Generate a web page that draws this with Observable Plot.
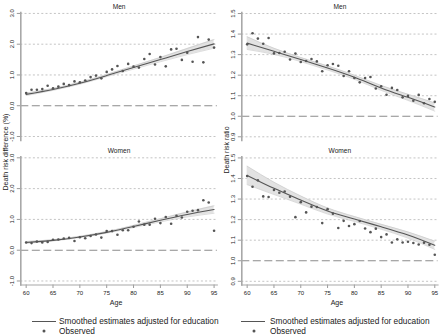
<!DOCTYPE html>
<html><head><meta charset="utf-8">
<script src="https://cdn.jsdelivr.net/npm/d3@7"></script>
<script src="https://cdn.jsdelivr.net/npm/@observablehq/plot@0.6"></script>
<style>
body{margin:0;background:#fff;font-family:"Liberation Sans",Arial,sans-serif;}
#wrap{position:relative;width:440px;height:336px;overflow:hidden;background:#fff;}
.p{position:absolute;}
.ytitle{position:absolute;transform:translate(-50%,-50%) rotate(-90deg);white-space:nowrap;font-size:7px;color:#222;line-height:1;}
.leg{position:absolute;font-size:8.3px;color:#222;white-space:nowrap;line-height:1;transform:translateY(-50%);}
.legline{position:absolute;height:0;border-top:1px solid #555;}
.legdot{position:absolute;width:3px;height:3px;border-radius:50%;background:#555;transform:translate(-50%,-50%);}
</style></head><body><div id="wrap"></div>
<script>
const ages = [60,61,62,63,64,65,66,67,68,69,70,71,72,73,74,75,76,77,78,79,80,81,82,83,84,85,86,87,88,89,90,91,92,93,94,95];
const menDiffObs = [0.41,0.52,0.52,0.54,0.65,0.57,0.62,0.71,0.67,0.79,0.76,0.82,0.93,0.98,0.89,1.10,1.18,1.29,1.13,1.36,1.27,1.24,1.52,1.68,1.34,1.58,1.28,1.83,1.85,1.49,1.72,1.43,2.23,1.41,2.15,1.89];
const menRatioObs = [1.350,1.404,1.378,1.353,1.381,1.306,1.308,1.314,1.276,1.305,1.264,1.269,1.279,1.267,1.219,1.248,1.254,1.246,1.196,1.219,1.186,1.165,1.186,1.191,1.135,1.146,1.105,1.138,1.128,1.092,1.099,1.076,1.104,1.063,1.084,1.070];
const womenDiffObs = [0.25,0.23,0.28,0.25,0.27,0.34,0.35,0.38,0.40,0.30,0.42,0.39,0.46,0.51,0.41,0.62,0.62,0.50,0.65,0.65,0.76,0.93,0.83,0.83,1.02,0.88,1.08,0.86,1.12,1.06,1.25,1.28,1.30,1.62,1.55,0.63];
const womenRatioObs = [1.412,1.360,1.391,1.313,1.310,1.344,1.331,1.337,1.311,1.212,1.285,1.235,1.263,1.261,1.183,1.251,1.229,1.159,1.194,1.169,1.178,1.193,1.157,1.139,1.156,1.115,1.128,1.089,1.104,1.089,1.092,1.086,1.079,1.088,1.078,1.029];

const smoothAges = [60,65,70,75,80,85,90,95];
const menDiffFit = [0.37,0.53,0.73,0.98,1.24,1.50,1.76,2.01];
const menDiffLo  = [0.33,0.50,0.70,0.945,1.19,1.43,1.66,1.87];
const menDiffHi  = [0.41,0.56,0.76,1.015,1.29,1.57,1.86,2.15];
const menRatioFit = [1.356,1.316,1.276,1.235,1.190,1.138,1.092,1.045];
const menRatioLo  = [1.325,1.301,1.266,1.225,1.180,1.126,1.077,1.025];
const menRatioHi  = [1.387,1.331,1.286,1.245,1.200,1.150,1.107,1.065];
const womenDiffFit = [0.25,0.32,0.43,0.58,0.77,0.97,1.16,1.32];
const womenDiffLo  = [0.22,0.30,0.41,0.555,0.735,0.92,1.08,1.20];
const womenDiffHi  = [0.28,0.34,0.45,0.605,0.805,1.02,1.24,1.44];
const womenRatioFit = [1.415,1.352,1.295,1.242,1.203,1.165,1.125,1.075];
const womenRatioLo  = [1.370,1.322,1.275,1.227,1.191,1.153,1.110,1.055];
const womenRatioHi  = [1.460,1.382,1.315,1.257,1.215,1.177,1.140,1.095];

const xTicks = [60,65,70,75,80,85,90,95];
const diffTicks = [-1,0,1,2,3];
const ratioTicks = [0.9,1.0,1.1,1.2,1.3,1.4,1.5];
const panelTitles = ["Men","Women"];
const yTitles = ["Death risk difference (%)","Death risk ratio"];
const xTitle = "Age";
const legendLabels = ["Smoothed estimates adjusted for education","Observed"];

const wrap = document.getElementById("wrap");

function panel({obs, fit, lo, hi, yDomain, yTicks, refY, title, bottom, left, ml, mr}) {
  const obsData = ages.map((a,i)=>({age:a, v:obs[i]}));
  const fitData = smoothAges.map((a,i)=>({age:a, v:fit[i], lo:lo[i], hi:hi[i]}));
  const height = bottom ? 170 : 145;
  const marginTop = bottom ? 16.4 : 12;
  const marginBottom = bottom ? 25.5 : 5;
  const marks = [
    Plot.ruleY(yTicks.filter(t=>Math.abs(t-refY)>1e-9), {y: d=>d, stroke:"#bdbdbd", strokeDasharray:"2,2.2", strokeWidth:0.9}),
    Plot.ruleY([refY], {stroke:"#8c8c8c", strokeDasharray:"8,3.5", strokeWidth:1.1}),
    Plot.areaY(fitData, {x:"age", y1:"lo", y2:"hi", fill:"#e2e2e2", curve:"natural"}),
    Plot.line(fitData, {x:"age", y:"lo", stroke:"#c4c4c4", strokeWidth:0.6, curve:"natural"}),
    Plot.line(fitData, {x:"age", y:"hi", stroke:"#c4c4c4", strokeWidth:0.6, curve:"natural"}),
    Plot.line(fitData, {x:"age", y:"v", stroke:"#555", strokeWidth:1.1, curve:"natural"}),
    Plot.dot(obsData, {x:"age", y:"v", r:1.3, fill:"#555", stroke:"none"}),
    Plot.axisY({ticks:yTicks, tickRotate:-90, tickSize:3.5, tickPadding:3, fontSize:6, tickFormat:d=>d.toFixed(1), stroke:"#999", label:null}),
    Plot.frame({anchor:"left", stroke:"#a8a8a8", strokeWidth:1.6}),
    Plot.text([title], {text:d=>d, frameAnchor:"top", dy: bottom ? -8.7 : -8, fontSize:6.6, fill:"#222"})
  ];
  if (bottom) {
    marks.push(
      Plot.axisX({ticks:xTicks, tickSize:3.5, tickPadding:2, fontSize:6, stroke:"#999", label:null}),
      Plot.frame({anchor:"bottom", stroke:"#a8a8a8", strokeWidth:1.2}),
      Plot.text([xTitle], {text:d=>d, frameAnchor:"bottom", dy:19.5, dx:-3, fontSize:7, fill:"#222"})
    );
  }
  const chart = Plot.plot({
    width:220, height, marginTop, marginBottom, marginLeft:ml, marginRight:mr,
    style:{background:"transparent", color:"#222", fontFamily:"Liberation Sans, Arial, sans-serif"},
    x:{domain:[59,95.6], label:null, ...(bottom ? {} : {axis:null})},
    y:{domain:yDomain, label:null},
    marks
  });
  chart.classList.add("p");
  chart.style.left = left + "px";
  chart.style.top = (bottom ? 140 : 0) + "px";
  wrap.appendChild(chart);
}

panel({obs:menDiffObs, fit:menDiffFit, lo:menDiffLo, hi:menDiffHi, yDomain:[-1.13,3.03], yTicks:diffTicks, refY:0, title:panelTitles[0], bottom:false, left:0, ml:20.3, mr:3.2});
panel({obs:womenDiffObs, fit:womenDiffFit, lo:womenDiffLo, hi:womenDiffHi, yDomain:[-1.13,3.03], yTicks:diffTicks, refY:0, title:panelTitles[1], bottom:true, left:0, ml:20.3, mr:3.2});
panel({obs:menRatioObs, fit:menRatioFit, lo:menRatioLo, hi:menRatioHi, yDomain:[0.882,1.505], yTicks:ratioTicks, refY:1.0, title:panelTitles[0], bottom:false, left:220, ml:21.3, mr:2.5});
panel({obs:womenRatioObs, fit:womenRatioFit, lo:womenRatioLo, hi:womenRatioHi, yDomain:[0.882,1.505], yTicks:ratioTicks, refY:1.0, title:panelTitles[1], bottom:true, left:220, ml:21.3, mr:2.5});

function addDiv(cls, text, styles) {
  const d = document.createElement("div");
  d.className = cls;
  if (text) d.textContent = text;
  Object.assign(d.style, styles);
  wrap.appendChild(d);
}
addDiv("ytitle", yTitles[0], {left:"5px", top:"152px"});
addDiv("ytitle", yTitles[1], {left:"226px", top:"150px"});

[[32,56,59,44],[241,265,270,254]].forEach(([l0,l1,tx,dotx])=>{
  addDiv("legline", "", {left:l0+"px", width:(l1-l0)+"px", top:"321px"});
  addDiv("leg", legendLabels[0], {left:tx+"px", top:"321px"});
  addDiv("legdot", "", {left:dotx+"px", top:"331px"});
  addDiv("leg", legendLabels[1], {left:tx+"px", top:"331px"});
});
</script></body></html>
